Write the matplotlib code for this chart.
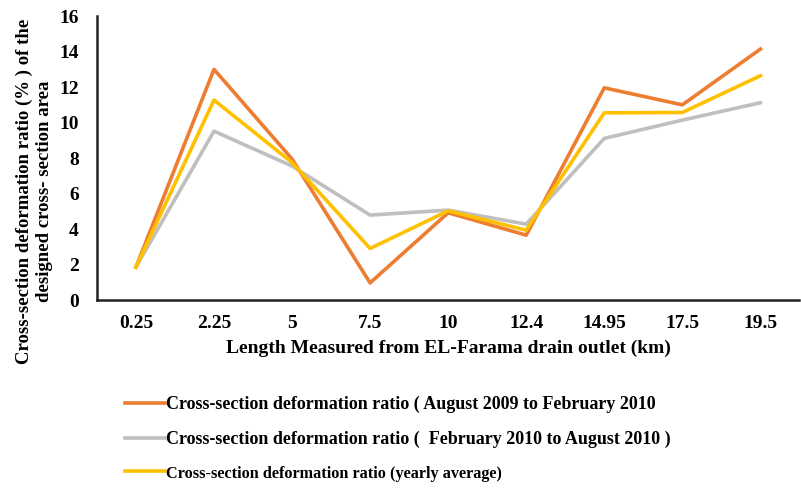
import numpy as np
import matplotlib
matplotlib.use('Agg')
import matplotlib.pyplot as plt

plt.rcParams['font.family'] = ['Liberation Serif', 'DejaVu Serif']
plt.rcParams['font.weight'] = 'bold'

dist_labels = ['0.25', '2.25', '5', '7.5', '10', '12.4', '14.95', '17.5', '19.5']
ratio_aug09_feb10 = [1.86, 13.0, 7.95, 0.97, 4.92, 3.66, 11.96, 11.0, 14.14]
ratio_feb10_aug10 = [1.86, 9.52, 7.55, 4.79, 5.07, 4.28, 9.11, 10.14, 11.12]
ratio_yearly = [1.86, 11.27, 7.75, 2.91, 5.03, 3.94, 10.55, 10.57, 12.64]

fig = plt.figure(figsize=(8.01, 4.88), dpi=100)
ax = fig.add_axes([0.121, 0.385, 0.877, 0.582])
x = np.arange(len(dist_labels))

ax.plot(x, ratio_aug09_feb10, color='#ED7D31', linewidth=2.6,
        label='Cross-section deformation ratio ( August 2009 to February 2010')
ax.plot(x, ratio_feb10_aug10, color='#BFBFBF', linewidth=2.6,
        label='Cross-section deformation ratio (  February 2010 to August 2010 )')
ax.plot(x, ratio_yearly, color='#FFC000', linewidth=2.6,
        label='Cross-section deformation ratio (yearly average)')

ax.set_xlim(-0.5, len(dist_labels) - 0.5)
ax.set_ylim(0, 16)
ax.set_yticks(range(0, 17, 2))
ax.set_xticks(x)
ax.set_xticklabels(dist_labels)
ax.tick_params(length=0, labelsize=14, pad=11)
ax.tick_params(axis='y', pad=13)
for s in ['top', 'right']:
    ax.spines[s].set_visible(False)
for s in ['left', 'bottom']:
    ax.spines[s].set_linewidth(1.8)
    ax.spines[s].set_color('#222222')

ax.set_xlabel('Length Measured from EL-Farama drain outlet (km)', fontsize=14,
              fontweight='bold', labelpad=5)
# y label sits lower than the axes centre in the original
fig.text(0.043, 0.608, 'Cross-section deformation ratio (% ) of the\ndesigned cross- section area',
         rotation=90, ha='center', va='center', multialignment='center',
         fontsize=13.5, fontweight='bold', linespacing=1.2)

leg = fig.legend(loc='upper left', bbox_to_anchor=(0.147, 0.203), frameon=False,
                 fontsize=13, handlelength=2.2, handletextpad=0.1, labelspacing=0.95,
                 borderaxespad=0)
leg.get_texts()[2].set_fontsize(11.7)  # last entry is set smaller in the original

plt.savefig('out.png', dpi=100)
